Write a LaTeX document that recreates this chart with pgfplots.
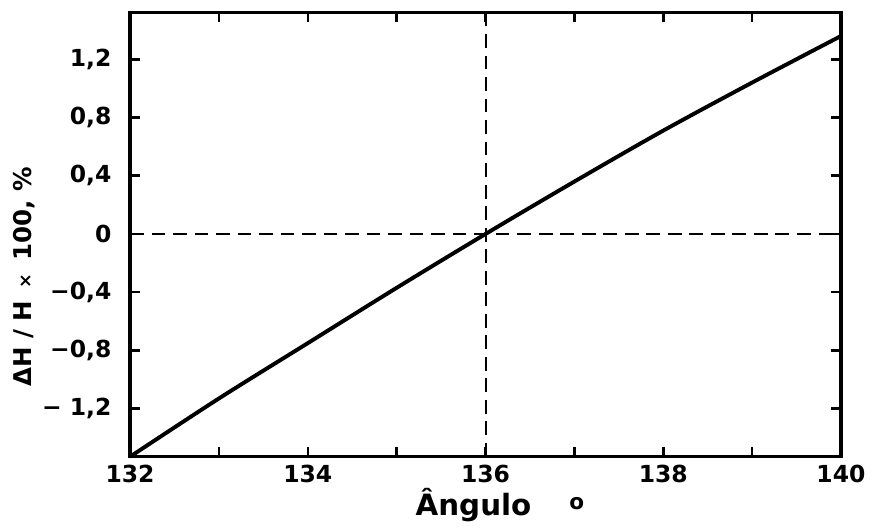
\documentclass[border=0pt]{standalone}
\usepackage{pgfplots}
\pgfplotsset{compat=1.18}
\usepackage{fontspec}
\setmainfont{DejaVu Sans}
\begin{document}
\begin{tikzpicture}
\begin{axis}[
  scale only axis, width=363.5pt, height=227pt,
  xmin=132, xmax=140, ymin=-1.53, ymax=1.52,
  axis line style={line width=1.6pt},
  tick style={line width=1.3pt, black},
  major tick length=5pt, minor tick length=5pt,
  tick align=inside,
  xtick={132,134,136,138,140},
  xticklabels={132,134,136,138,140},
  minor xtick={133,135,137,139},
  ytick={-1.2,-0.8,-0.4,0,0.4,0.8,1.2},
  yticklabels={{− 1,2},{−0,8},{−0,4},{0},{0,4},{0,8},{1,2}},
  ticklabel style={font=\bfseries\fontsize{12}{14}\selectfont},
  yticklabel style={xshift=-6pt},
  xticklabel style={yshift=-1pt},
  xlabel={\fontsize{15}{17}\selectfont\bfseries Ângulo\hspace{1.3em}\raisebox{0.35ex}{\fontsize{11}{12}\selectfont o}},
  xlabel style={at={([yshift=-30pt]rel axis cs:0.392,0)}, anchor=base west},
  ylabel={\fontsize{12.5}{15}\selectfont\bfseries ΔH / H \,{\fontsize{9}{10}\selectfont ×}\, 100, \%},
  ylabel style={at={([xshift=-54pt]rel axis cs:0,0.405)}, anchor=center},
  clip=false,
]
\addplot[black, line width=2pt, smooth] coordinates {
  (132,-1.53) (133,-1.13) (134,-0.75) (135,-0.37) (136,0) (137,0.36) (138,0.71) (139,1.04) (140,1.36)
};
\addplot[black, line width=1pt, dash pattern=on 7pt off 4pt] coordinates {(132,0) (140,0)};
\addplot[black, line width=1pt, dash pattern=on 7pt off 4pt] coordinates {(136,-1.53) (136,1.52)};
\end{axis}
\path (-66.5pt,-36pt) rectangle (369.5pt,233.5pt);
\end{tikzpicture}
\end{document}
